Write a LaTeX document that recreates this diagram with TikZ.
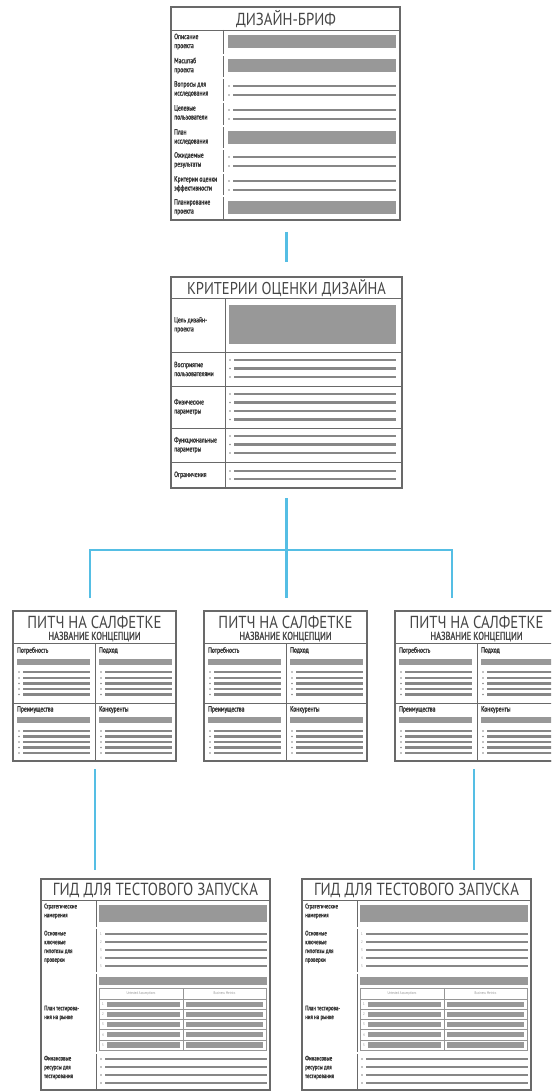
\documentclass[tikz,border=0pt]{standalone}
\usepackage{graphicx}
\usepackage{fontspec}
\setmainfont{PT Sans}
\newfontfamily\tcond[FakeStretch=0.85]{PT Sans}
\newfontfamily\lcond[FakeStretch=0.78]{PT Sans}
\newfontfamily\lbold[FakeStretch=0.74,FakeBold=1.6]{PT Sans}
\usetikzlibrary{calc}
\definecolor{framec}{RGB}{105,105,105}
\definecolor{barc}{RGB}{152,152,152}
\definecolor{linec}{RGB}{135,135,135}
\definecolor{titlec}{RGB}{70,70,70}
\definecolor{labelc}{RGB}{55,55,55}
\definecolor{hdrc}{RGB}{150,150,150}
\definecolor{connc}{RGB}{85,190,228}
\tikzset{
  frame/.style={draw=framec, line width=1.1pt, fill=white, inner sep=0pt, outer sep=0pt, anchor=north west},
  border/.style={draw=framec, line width=1.1pt},
  sep/.style={draw=framec, line width=0.9pt},
  dsep/.style={draw=framec, line width=0.6pt, double=white, double distance=1.4pt},
  thinsep/.style={draw=framec!70, line width=0.5pt},
  bl/.style={draw=linec, line width=2.2pt},
  conn/.style={draw=connc, line width=2.4pt},
  ttl/.style={inner sep=0pt, text=titlec, font=\tcond\fontsize{16}{16}\selectfont},
  lbl/.style={inner sep=0pt, anchor=north west, align=left, text=labelc, font=\lbold\fontsize{7.6}{9}\selectfont},
  glbl/.style={lbl, font=\lbold\fontsize{6.6}{8.8}\selectfont},
  num/.style={inner sep=0pt, text=linec, font=\lcond\fontsize{3.8}{4}\selectfont},
  hdr/.style={inner sep=0pt, text=hdrc, font=\lcond\fontsize{3.9}{4}\selectfont},
}
\newcommand\Bln[3]{\fill[linec] (#1,#3) circle (0.9pt); \draw[bl] ({#1+4},#3) -- (#2,#3);}
\newcommand\Nln[4]{\node[num] at (#1,#3) {#4}; \draw[bl] ({#1+4},#3) -- (#2,#3);}
\newcommand\Pitch[2]{%
  \node[frame, minimum width=163pt, minimum height=150pt] (#2) at (#1,611) {};
  \node[ttl] (#2T) at ({#1+81.5},622) {\resizebox{134pt}{!}{ПИТЧ НА САЛФЕТКЕ}};
  \node[ttl, font=\lbold\fontsize{7}{7}\selectfont] (#2S) at ({#1+81.5},636.5) {\resizebox{92pt}{!}{НАЗВАНИЕ КОНЦЕПЦИИ}};
  \draw[sep] (#1,643) -- ({#1+163},643);
  \draw[sep] ({#1+82},643) -- ({#1+82},761);
  \draw[sep] (#1,703) -- ({#1+163},703);
  \foreach \q in {0,82} {
    \fill[barc] ({#1+\q+4},659) rectangle ({#1+\q+77},665);
    \foreach \y in {672,678,683.5,689,694.5} {\Bln{#1+\q+6}{#1+\q+77}{\y}}
    \fill[barc] ({#1+\q+4},717) rectangle ({#1+\q+77},723);
    \foreach \y in {731,736.5,742,747.5,753} {\Bln{#1+\q+6}{#1+\q+77}{\y}}
  }
  \node[lbl] (#2a) at ({#1+4},647) {Потребность};
  \node[lbl] (#2b) at ({#1+86},647) {Подход};
  \node[lbl] (#2c) at ({#1+4},706) {Преимущества};
  \node[lbl] (#2d) at ({#1+86},706) {Конкуренты};
  \draw[border] (#2.north west) rectangle (#2.south east);
}
\newcommand\Guide[2]{%
  \node[frame, minimum width=229pt, minimum height=211pt] (#2) at (#1,879) {};
  \node[ttl] (#2T) at ({#1+114.5},890.5) {\resizebox{205pt}{!}{ГИД ДЛЯ ТЕСТОВОГО ЗАПУСКА}};
  \draw[sep] (#1,900) -- ({#1+229},900);
  \draw[sep] ({#1+55},900) -- ({#1+55},1090);
  \foreach \y in {928,973,1053} {\draw[dsep] (#1,\y) -- ({#1+229},\y);}
  \fill[barc] ({#1+58},905) rectangle ({#1+226},922);
  \Nln{#1+60}{#1+226}{934}{1}
  \Nln{#1+60}{#1+226}{942}{2}
  \Nln{#1+60}{#1+226}{950}{3}
  \Nln{#1+60}{#1+226}{958}{4}
  \Nln{#1+60}{#1+226}{966}{5}
  \fill[barc] ({#1+58},977) rectangle ({#1+226},985);
  \draw[thinsep] ({#1+58},988) rectangle ({#1+225},1050);
  \draw[thinsep] ({#1+142},988) -- ({#1+142},1050);
  \foreach \y in {999,1009.2,1019.4,1029.6,1039.8} {\draw[thinsep] ({#1+58},\y) -- ({#1+225},\y);}
  \node[hdr] at ({#1+100},993.5) {Untested Assumptions};
  \node[hdr] at ({#1+183.5},993.5) {Business Metrics};
  \foreach \y/\n in {1004.1/1,1014.3/2,1024.5/3,1034.7/4,1044.9/5} {
    \node[num] at ({#1+62},\y) {\n};
    \fill[barc] ({#1+66},\y-2.6) rectangle ({#1+139},\y+2.6);
    \fill[barc] ({#1+145},\y-2.6) rectangle ({#1+222},\y+2.6);
  }
  \foreach \y in {1059,1067,1075,1083} {\Bln{#1+60}{#1+226}{\y}}
  \node[glbl] (#2a) at ({#1+3},903.5) {Стратегические\\намерения};
  \node[glbl] (#2b) at ({#1+3},930.5) {Основные\\ключевые\\гипотезы для\\проверки};
  \node[glbl, anchor=west] (#2c) at ({#1+3},1013) {План тестирова-\\ния на рынке};
  \node[glbl] (#2d) at ({#1+3},1055.5) {Финансовые\\ресурсы для\\тестирования};
  \draw[border] (#2.north west) rectangle (#2.south east);
}
\begin{document}
\begin{tikzpicture}[x=1pt,y=-1pt]
\useasboundingbox (0,0) rectangle (551,1091);
\clip (0,0) rectangle (551,1091);
\fill[white] (0,0) rectangle (551,1091);

% ---------- Design brief ----------
\node[frame, minimum width=229pt, minimum height=213pt] (brief) at (171,7) {};
\node[ttl] (briefT) at (286,19) {\resizebox{100pt}{!}{ДИЗАЙН-БРИФ}};
\draw[sep] (171,30) -- (400,30);
\draw[sep] (223,30) -- (223,220);
\foreach \y in {55,78,102,126,149,173,196} {\draw[dsep] (171,\y) -- (400,\y);}
\foreach \t in {35,59.5,131,201.5} {\fill[barc] (228,\t) rectangle (396,\t+13);}
\foreach \y in {86,95,110,119,157,166,181,190} {\Bln{229}{396}{\y}}
\node[lbl] (b1) at (174,33.5) {Описание\\проекта};
\node[lbl] (b2) at (174,57.5) {Масштаб\\проекта};
\node[lbl] (b3) at (174,81) {Вопросы для\\исследования};
\node[lbl] (b4) at (174,105) {Целевые\\пользователи};
\node[lbl] (b5) at (174,129) {План\\исследования};
\node[lbl] (b6) at (174,152) {Ожидаемые\\результаты};
\node[lbl] (b7) at (174,176) {Критерии оценки\\эффективности};
\node[lbl] (b8) at (174,199) {Планирование\\проекта};
\draw[border] (brief.north west) rectangle (brief.south east);

% ---------- Criteria ----------
\node[frame, minimum width=231pt, minimum height=211pt] (crit) at (171,277) {};
\node[ttl] (critT) at (286.5,288.5) {\resizebox{199pt}{!}{КРИТЕРИИ ОЦЕНКИ ДИЗАЙНА}};
\draw[sep] (171,298) -- (402,298);
\draw[sep] (225,298) -- (225,488);
\foreach \y in {352,386,428,462} {\draw[sep] (171,\y) -- (402,\y);}
\fill[barc] (229,305) rectangle (396,344);
\foreach \y in {360,368.5,377,394,402.5,411,419.5,436,444.5,453,471,479} {\Bln{230}{396}{\y}}
\node[lbl, anchor=west] (c1) at (174,325) {Цель дизайн-\\проекта};
\node[lbl, anchor=west] (c2) at (174,369) {Восприятие\\пользователями};
\node[lbl, anchor=west] (c3) at (174,407) {Физические\\параметры};
\node[lbl, anchor=west] (c4) at (174,445) {Функциональные\\параметры};
\node[lbl, anchor=west] (c5) at (174,475) {Ограничения};
\draw[border] (crit.north west) rectangle (crit.south east);

% ---------- Pitches ----------
\Pitch{13}{p1}
\Pitch{204}{p2}
\Pitch{395}{p3}

% ---------- Guides ----------
\Guide{41}{g1}
\Guide{302}{g2}

% ---------- Connectors ----------
\coordinate (L) at (90,550);
\coordinate (R) at (452,550);
\coordinate (k1) at (95,0);
\coordinate (k3) at (474,0);
\draw[conn, shorten <=12pt, shorten >=15pt] (crit.north |- brief.south) -- (crit.north);
\draw[conn, shorten <=10pt, shorten >=13pt] (crit.south) -- (crit.south |- p2.north);
\draw[conn, shorten <=13pt, shorten >=13pt] (L |- p1.north) -- (L) -- (R) -- (R |- p3.north);
\draw[conn, shorten <=8pt, shorten >=9pt] (k1 |- p1.south) -- (k1 |- g1.north);
\draw[conn, shorten <=8pt, shorten >=9pt] (k3 |- p3.south) -- (k3 |- g2.north);
\end{tikzpicture}
\end{document}
